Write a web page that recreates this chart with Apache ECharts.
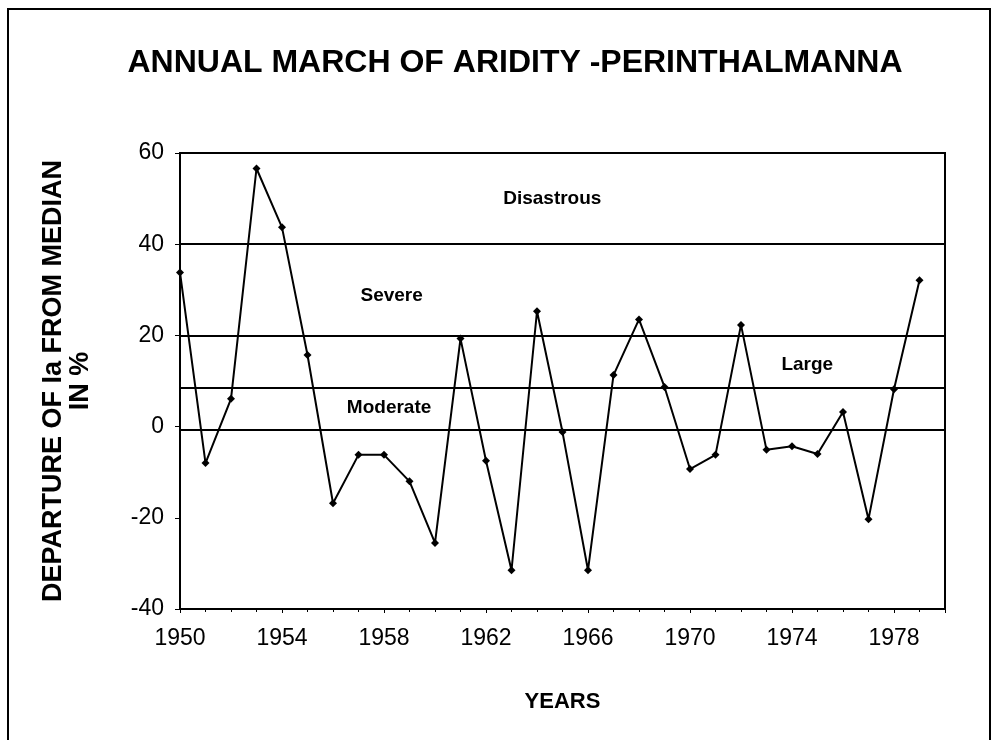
<!DOCTYPE html>
<html>
<head>
<meta charset="utf-8">
<script src="https://cdn.jsdelivr.net/npm/echarts@6/dist/echarts.min.js"></script>
<style>
html,body{margin:0;padding:0;background:#fff;}
#chart{width:993px;height:740px;}
</style>
</head>
<body>
<div id="chart"></div>
<script>
// ---- data ----
const years = [1950,1951,1952,1953,1954,1955,1956,1957,1958,1959,
               1960,1961,1962,1963,1964,1965,1966,1967,1968,1969,
               1970,1971,1972,1973,1974,1975,1976,1977,1978,1979];
const departure = [33.8,-8,6.1,56.6,43.7,15.7,-16.8,-6.2,-6.2,-12,
                   -25.5,19.3,-7.5,-31.5,25.3,-1.2,-31.5,11.3,23.5,8.7,
                   -9.3,-6.2,22.3,-5.1,-4.3,-6,3.2,-20.3,8.2,32.1];
const classBounds = [40, 20, 8.5, -0.8];
const classNames = ['Disastrous','Severe','Large','Moderate'];
const classLabelYears = [1964.6, 1958.3, 1974.6, 1958.2];
const classLabelValues = [50, 28.6, 13.6, 4.2];
const yTicks = {min:-40, max:60, interval:20};
const xTicks = {min:1950, max:1980, interval:4};

const font = '"Liberation Sans", Arial, sans-serif';
const chart = echarts.init(document.getElementById('chart'), null, {renderer:'canvas'});

chart.setOption({
  backgroundColor:'#fff',
  animation:false,
  title:{
    text:'ANNUAL MARCH OF ARIDITY -PERINTHALMANNA',
    left:510, textAlign:'center', top:42,
    textStyle:{fontFamily:font, fontWeight:'bold', fontSize:32, color:'#000'}
  },
  grid:{left:180, right:48, top:153, bottom:131, show:true, borderColor:'#000', borderWidth:2, backgroundColor:'transparent'},
  xAxis:{
    type:'value', min:xTicks.min, max:xTicks.max, interval:xTicks.interval,
    name:'YEARS', nameLocation:'middle', nameGap:82,
    nameTextStyle:{fontFamily:font, fontWeight:'bold', fontSize:22, color:'#000'},
    axisLine:{show:true, onZero:false, lineStyle:{color:'#000', width:2}},
    axisTick:{show:true, length:4, lineStyle:{color:'#000', width:1}},
    minorTick:{show:true, splitNumber:4, length:3, lineStyle:{color:'#000'}},
    splitLine:{show:false},
    axisLabel:{fontFamily:font, fontSize:23, color:'#000', margin:18, showMaxLabel:false,
      formatter:v=>String(v)}
  },
  yAxis:{
    type:'value', min:yTicks.min, max:yTicks.max, interval:yTicks.interval,
    name:'DEPARTURE OF Ia FROM MEDIAN\nIN %', nameLocation:'middle', nameGap:86,
    nameTextStyle:{fontFamily:font, fontWeight:'bold', fontSize:27, color:'#000', lineHeight:27},
    axisLine:{show:true, onZero:false, lineStyle:{color:'#000', width:2}},
    axisTick:{show:true, length:5, lineStyle:{color:'#000'}},
    splitLine:{show:false},
    axisLabel:{fontFamily:font, fontSize:23, color:'#000', margin:16}
  },
  series:[{
    type:'line',
    data: years.map((y,i)=>[y, departure[i]]),
    symbol:'diamond', symbolSize:8,
    itemStyle:{color:'#000'},
    lineStyle:{color:'#000', width:2},
    z:3,
    markLine:{
      silent:true, symbol:'none', label:{show:false},
      lineStyle:{color:'#000', width:2, type:'solid'},
      data: classBounds.map(v=>({yAxis:v}))
    }
  }]
});

// frame + class annotations positioned through the chart's own coordinate conversion
const graphics = [{
  type:'rect', shape:{x:8, y:9, width:982, height:760},
  style:{fill:'none', stroke:'#000', lineWidth:2}, silent:true
}];
classNames.forEach((n,i)=>{
  const p = chart.convertToPixel({gridIndex:0}, [classLabelYears[i], classLabelValues[i]]);
  graphics.push({
    type:'text', x:p[0], y:p[1], silent:true, z:10,
    style:{text:n, fill:'#000', font:'bold 19px "Liberation Sans", Arial, sans-serif',
      align:'center', verticalAlign:'middle'}
  });
});
chart.setOption({graphic:graphics});
</script>
</body>
</html>
